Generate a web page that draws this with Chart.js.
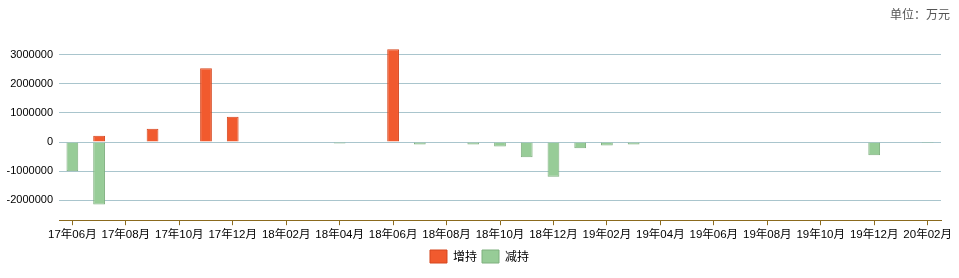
<!DOCTYPE html>
<html>
<head>
<meta charset="utf-8">
<script src="https://cdn.jsdelivr.net/npm/chart.js@4/dist/chart.umd.min.js"></script>
<style>
  html, body { margin: 0; padding: 0; background: #fff; }
  #wrap { position: relative; width: 959px; height: 278px; }
  #unit {
    position: absolute; right: 9px; top: 5px;
    font: 12px "Noto Sans CJK SC", sans-serif; color: #555;
  }
</style>
</head>
<body>
<div id="wrap">
  <canvas id="chart" width="959" height="278"></canvas>
  <div id="unit">单位：万元</div>
</div>
<script>
const months = [
  '17年06月', '17年07月', '17年08月', '17年09月', '17年10月', '17年11月', '17年12月',
  '18年01月', '18年02月', '18年03月', '18年04月', '18年05月', '18年06月', '18年07月',
  '18年08月', '18年09月', '18年10月', '18年11月', '18年12月', '19年01月', '19年02月',
  '19年03月', '19年04月', '19年05月', '19年06月', '19年07月', '19年08月', '19年09月',
  '19年10月', '19年11月', '19年12月', '20年01月', '20年02月'
];

const increase = [
  null, 220000, null, 460000, null, 2530000, 870000,
  null, null, null, null, null, 3180000, null,
  null, null, null, null, null, null, null,
  null, null, null, null, null, null, null,
  null, null, null, null, null
];

const decrease = [
  -1000000, -2140000, null, null, null, null, null,
  null, null, null, -50000, null, null, -80000,
  null, -80000, -150000, -520000, -1190000, -210000, -120000,
  -80000, null, null, null, null, null, null,
  null, null, -450000, null, -35000
];

const yTicks = [-2000000, -1000000, 0, 1000000, 2000000, 3000000];

// legend is centred on the whole canvas, not on the padded area
const centerLegend = {
  id: 'centerLegend',
  afterLayout(chart) {
    chart.legend.left += 9;
    chart.legend.right += 9;
  }
};

new Chart(document.getElementById('chart').getContext('2d'), {
  type: 'bar',
  data: {
    labels: months,
    datasets: [
      {
        label: '增持',
        data: increase,
        backgroundColor: '#f15a2e',
        borderColor: '#d5471f',
        borderWidth: 1
      },
      {
        label: '减持',
        data: decrease,
        backgroundColor: '#97cc97',
        borderColor: '#7fb07f',
        borderWidth: 1
      }
    ]
  },
  plugins: [centerLegend],
  options: {
    responsive: false,
    animation: false,
    barPercentage: 0.44,
    categoryPercentage: 1,
    layout: { padding: { top: 40, right: 18, left: 0, bottom: 5 } },
    plugins: {
      tooltip: { enabled: false },
      legend: {
        position: 'bottom',
        labels: {
          color: '#000',
          font: { family: '"Noto Sans CJK SC", sans-serif', size: 12 },
          boxWidth: 17,
          boxHeight: 13,
          padding: 5
        }
      }
    },
    scales: {
      x: {
        stacked: true,
        grid: {
          offset: false,
          drawOnChartArea: false,
          drawTicks: true,
          tickLength: 5,
          color: '#8b6a1e'
        },
        border: { color: '#8b6a1e' },
        ticks: {
          color: '#000',
          font: { family: '"Liberation Sans", "Noto Sans CJK SC", sans-serif', size: 11.5 },
          autoSkip: false,
          maxRotation: 0,
          padding: 3,
          callback: (v, i) => (i % 2 === 0 ? months[i] : null)
        }
      },
      y: {
        stacked: true,
        min: -2680000,
        max: 3500000,
        afterBuildTicks: (scale) => { scale.ticks = yTicks.map((value) => ({ value })); },
        afterFit: (scale) => { scale.width = 59; },
        grid: { color: '#a9c5cd', drawTicks: false },
        border: { display: false },
        ticks: {
          color: '#000',
          font: { family: '"Liberation Sans", sans-serif', size: 11 },
          padding: 6,
          callback: (v) => String(v)
        }
      }
    }
  }
});
</script>
</body>
</html>
